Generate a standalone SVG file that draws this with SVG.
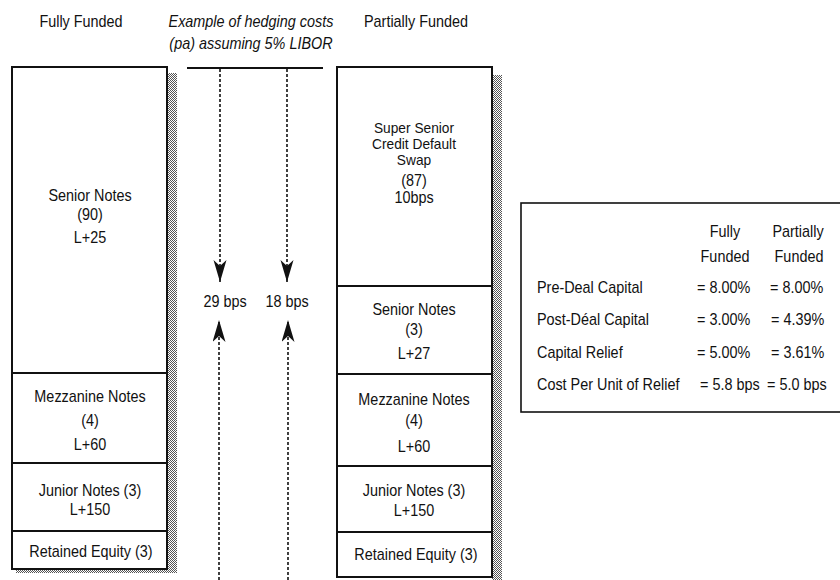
<svg xmlns="http://www.w3.org/2000/svg" width="840" height="580" viewBox="0 0 840 580">
<style>
text{font-family:"Liberation Sans",Arial,Helvetica,sans-serif;font-size:16px;fill:#111}
.c{text-anchor:middle}
.it{font-style:italic}
.sm{font-size:14px}
.box{fill:#fff;stroke:#111;stroke-width:2}
.div{stroke:#111;stroke-width:2}
.dash{stroke:#111;stroke-width:1.6;stroke-dasharray:3 2;fill:none}
.shadow{fill:url(#stip)}
</style>
<defs>
<pattern id="stip" width="2" height="2" patternUnits="userSpaceOnUse">
<rect width="2" height="2" fill="#fff"/>
<rect width="1" height="1" fill="#555"/>
<rect x="1" y="1" width="1" height="1" fill="#555"/>
</pattern>
<marker id="arr" markerUnits="userSpaceOnUse" markerWidth="24" markerHeight="14" refX="22" refY="6.5" orient="auto" viewBox="0 0 24 14">
<path d="M0,0 L22,6.5 L0,13 L6,6.5 z" fill="#111" stroke="none"/>
</marker>
</defs>
<rect width="840" height="580" fill="#fff"/>

<g id="titles">
<text class="c" transform="translate(81 27) scale(.9 1)">Fully Funded</text>
<text class="c it" transform="translate(251 27) scale(.9 1)">Example of hedging costs</text>
<text class="c it" transform="translate(251 49) scale(.9 1)">(pa) assuming 5% LIBOR</text>
<text class="c" transform="translate(416 27) scale(.9 1)">Partially Funded</text>
</g>

<g id="fully-funded">
<rect class="shadow" x="167" y="73" width="10" height="500"/>
<rect class="shadow" x="16" y="569" width="161" height="4"/>
<rect class="box" x="12" y="67" width="155" height="502"/>
<g id="ff-senior">
<text class="c" transform="translate(90 201) scale(.9 1)">Senior Notes</text>
<text class="c" transform="translate(90 220) scale(.9 1)">(90)</text>
<text class="c" transform="translate(90 243) scale(.9 1)">L+25</text>
</g>
<line class="div" x1="12" y1="373" x2="167" y2="373"/>
<g id="ff-mezz">
<text class="c" transform="translate(90 402) scale(.9 1)">Mezzanine Notes</text>
<text class="c" transform="translate(90 426) scale(.9 1)">(4)</text>
<text class="c" transform="translate(90 450) scale(.9 1)">L+60</text>
</g>
<line class="div" x1="12" y1="463" x2="167" y2="463"/>
<g id="ff-junior">
<text class="c" transform="translate(90 496) scale(.9 1)">Junior Notes (3)</text>
<text class="c" transform="translate(90 515) scale(.9 1)">L+150</text>
</g>
<line class="div" x1="12" y1="531" x2="167" y2="531"/>
<g id="ff-equity">
<text class="c" transform="translate(91 557) scale(.9 1)">Retained Equity (3)</text>
</g>
</g>

<g id="partially-funded">
<rect class="shadow" x="492" y="75" width="10" height="505"/>
<rect class="box" x="337" y="67" width="155" height="510"/>
<g id="pf-supersenior">
<text class="c sm" transform="translate(414 133) scale(.98 1)">Super Senior</text>
<text class="c sm" transform="translate(414 149) scale(.98 1)">Credit Default</text>
<text class="c sm" transform="translate(414 165) scale(.98 1)">Swap</text>
<text class="c" transform="translate(414 186) scale(.9 1)">(87)</text>
<text class="c" transform="translate(414 203) scale(.9 1)">10bps</text>
</g>
<line class="div" x1="337" y1="286" x2="492" y2="286"/>
<g id="pf-senior">
<text class="c" transform="translate(414 315) scale(.9 1)">Senior Notes</text>
<text class="c" transform="translate(414 335) scale(.9 1)">(3)</text>
<text class="c" transform="translate(414 359) scale(.9 1)">L+27</text>
</g>
<line class="div" x1="337" y1="374" x2="492" y2="374"/>
<g id="pf-mezz">
<text class="c" transform="translate(414 405) scale(.9 1)">Mezzanine Notes</text>
<text class="c" transform="translate(414 426) scale(.9 1)">(4)</text>
<text class="c" transform="translate(414 452) scale(.9 1)">L+60</text>
</g>
<line class="div" x1="337" y1="466" x2="492" y2="466"/>
<g id="pf-junior">
<text class="c" transform="translate(414 496) scale(.9 1)">Junior Notes (3)</text>
<text class="c" transform="translate(414 516) scale(.9 1)">L+150</text>
</g>
<line class="div" x1="337" y1="532" x2="492" y2="532"/>
<g id="pf-equity">
<text class="c" transform="translate(416 560) scale(.9 1)">Retained Equity (3)</text>
</g>
</g>

<g id="hedging-costs">
<text class="c" transform="translate(225 307) scale(.9 1)">29 bps</text>
<text class="c" transform="translate(287 307) scale(.9 1)">18 bps</text>
</g>

<g id="connectors">
<line x1="187" y1="68" x2="323" y2="68" stroke="#111" stroke-width="2"/>
<line class="dash" x1="220" y1="69" x2="220" y2="282" marker-end="url(#arr)"/>
<line class="dash" x1="287" y1="69" x2="287" y2="282" marker-end="url(#arr)"/>
<line class="dash" x1="219" y1="580" x2="219" y2="320" marker-end="url(#arr)"/>
<line class="dash" x1="288" y1="580" x2="288" y2="320" marker-end="url(#arr)"/>
</g>

<g id="capital-table">
<rect x="521" y="203" width="330" height="209" fill="#fff" stroke="#111" stroke-width="1.6"/>
<text class="c" transform="translate(725 237) scale(.9 1)">Fully</text>
<text class="c" transform="translate(725 262) scale(.9 1)">Funded</text>
<text class="c" transform="translate(798 237) scale(.9 1)">Partially</text>
<text class="c" transform="translate(799 262) scale(.9 1)">Funded</text>
<text transform="translate(537 293) scale(.9 1)">Pre-Deal Capital</text>
<text transform="translate(537 325) scale(.9 1)">Post-Déal Capital</text>
<text transform="translate(537 358) scale(.9 1)">Capital Relief</text>
<text transform="translate(537 390) scale(.9 1)">Cost Per Unit of Relief</text>
<text transform="translate(697 293) scale(.9 1)">= 8.00%</text>
<text transform="translate(697 325) scale(.9 1)">= 3.00%</text>
<text transform="translate(697 358) scale(.9 1)">= 5.00%</text>
<text transform="translate(700 390) scale(.9 1)">= 5.8 bps</text>
<text transform="translate(770 293) scale(.9 1)">= 8.00%</text>
<text transform="translate(771 325) scale(.9 1)">= 4.39%</text>
<text transform="translate(771 358) scale(.9 1)">= 3.61%</text>
<text transform="translate(767 390) scale(.9 1)">= 5.0 bps</text>
</g>
</svg>
